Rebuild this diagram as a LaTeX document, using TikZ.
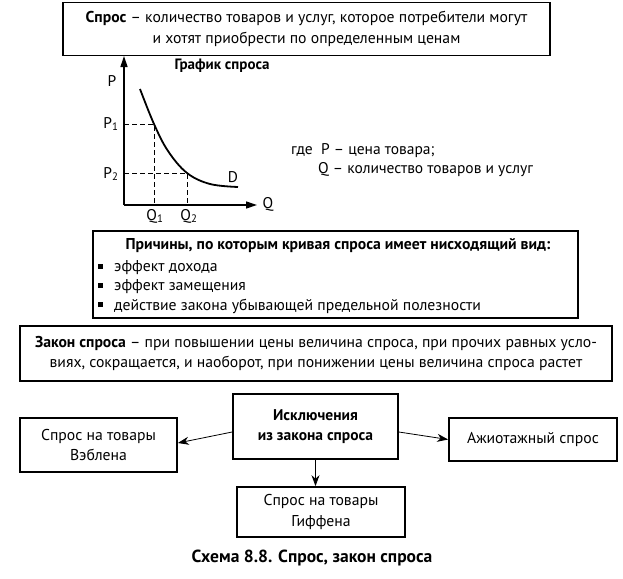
\documentclass[tikz,border=0pt]{standalone}
\usepackage{fontspec}
\setmainfont{PT Sans}
\usetikzlibrary{arrows.meta}
\begin{document}
\begin{tikzpicture}[x=1pt,y=-1pt,
  box/.style={draw,line width=1.7pt,inner sep=0pt,align=center,font=\fontsize{15.7}{20.5}\selectfont},
  txt/.style={font=\fontsize{15.7}{20}\selectfont,inner sep=0pt},
  gtxt/.style={font=\fontsize{15.5}{18}\selectfont,inner sep=0pt},
  arr/.style={-{Stealth[length=11pt,width=8pt]},line width=0.8pt},
  axis/.style={line width=1.3pt,-{Triangle[length=11pt,width=7pt]}},
  guide/.style={dashed,dash pattern=on 5pt off 3pt,line width=0.8pt}
]
\useasboundingbox (0,0) rectangle (623,578);

% definition
\node[box,minimum width=487pt,minimum height=53pt] (def) at (306.5,29)
  {\textbf{Спрос} – количество товаров и услуг, которое потребители могут\\и хотят приобрести по определенным ценам};

% graph
\coordinate (O) at (124,205);
\coordinate (Ptop) at (124,56);
\coordinate (Qend) at (257,205);
\coordinate (A) at (154,124);
\coordinate (B) at (187,173);
\draw[axis] (O) -- (Ptop);
\draw[axis] (O) -- (Qend);
\draw[line width=1.8pt] plot[smooth,tension=0.6] coordinates {(140,89) (A) (168,151) (B) (210,184) (238,187)};
\draw[guide] (O |- A) -- (A) -- (A |- O);
\draw[guide] (O |- B) -- (B) -- (B |- O);
\node[gtxt,font=\fontsize{15}{18}\selectfont\bfseries] (title) at (222,66) {График спроса};
\node[gtxt] (lP) at (112,81) {P};
\node[gtxt] (lP1) at (111,124) {P\textsubscript{1}};
\node[gtxt] (lP2) at (111,174) {P\textsubscript{2}};
\node[gtxt] (lQ) at (268,204) {Q};
\node[gtxt] (lQ1) at (155,216) {Q\textsubscript{1}};
\node[gtxt] (lQ2) at (189,216) {Q\textsubscript{2}};
\node[gtxt] (lD) at (233,177) {D};
\node[gtxt,anchor=west] (where1) at (291,151) {где\ \ P – цена товара;};
\node[gtxt,anchor=west] (where2) at (318,170) {Q – количество товаров и услуг};

% reasons
\node[box,minimum width=485pt,minimum height=87pt] (reasons) at (335.5,274.5) {};
\node[txt,font=\fontsize{15.7}{18}\selectfont\bfseries] (rtitle) at (338,246) {Причины, по которым кривая спроса имеет нисходящий вид:};
\node[txt,anchor=west] (r1) at (98,268) {\rule[3pt]{5pt}{5pt}\hspace{11pt}эффект дохода};
\node[txt,anchor=west] (r2) at (98,287) {\rule[3pt]{5pt}{5pt}\hspace{11pt}эффект замещения};
\node[txt,anchor=west] (r3) at (98,306) {\rule[3pt]{5pt}{5pt}\hspace{11pt}действие закона убывающей предельной полезности};

% law
\node[box,minimum width=592pt,minimum height=55pt,font=\fontsize{15.7}{19.5}\selectfont] (law) at (316,353.5)
  {\textbf{Закон спроса} – при повышении цены величина спроса, при прочих равных усло-\\виях, сокращается, и наоборот, при понижении цены величина спроса растет};

% exceptions
\node[box,minimum width=165pt,minimum height=65pt,font=\fontsize{15.5}{20.5}\selectfont\bfseries] (exc) at (315.5,426.5) {Исключения\\из закона спроса};
\node[box,minimum width=157pt,minimum height=54pt] (veb) at (98.5,445) {Спрос на товары\\Вэблена};
\node[box,minimum width=168pt,minimum height=43pt] (azh) at (533,439.5) {Ажиотажный спрос};
\node[box,minimum width=168pt,minimum height=50pt] (gif) at (321,512) {Спрос на товары\\Гиффена};

\draw[arr] ([yshift=-5.5pt]exc.west) -- ([yshift=2pt]veb.east);
\draw[arr] ([yshift=-5.5pt]exc.east) -- (azh.west);
\draw[arr] (exc.south) -- (exc.south |- gif.north);

\node[txt,font=\fontsize{17.5}{20}\selectfont\bfseries] (cap) at (312,558) {Схема 8.8. Спрос, закон спроса};
\end{tikzpicture}
\end{document}
